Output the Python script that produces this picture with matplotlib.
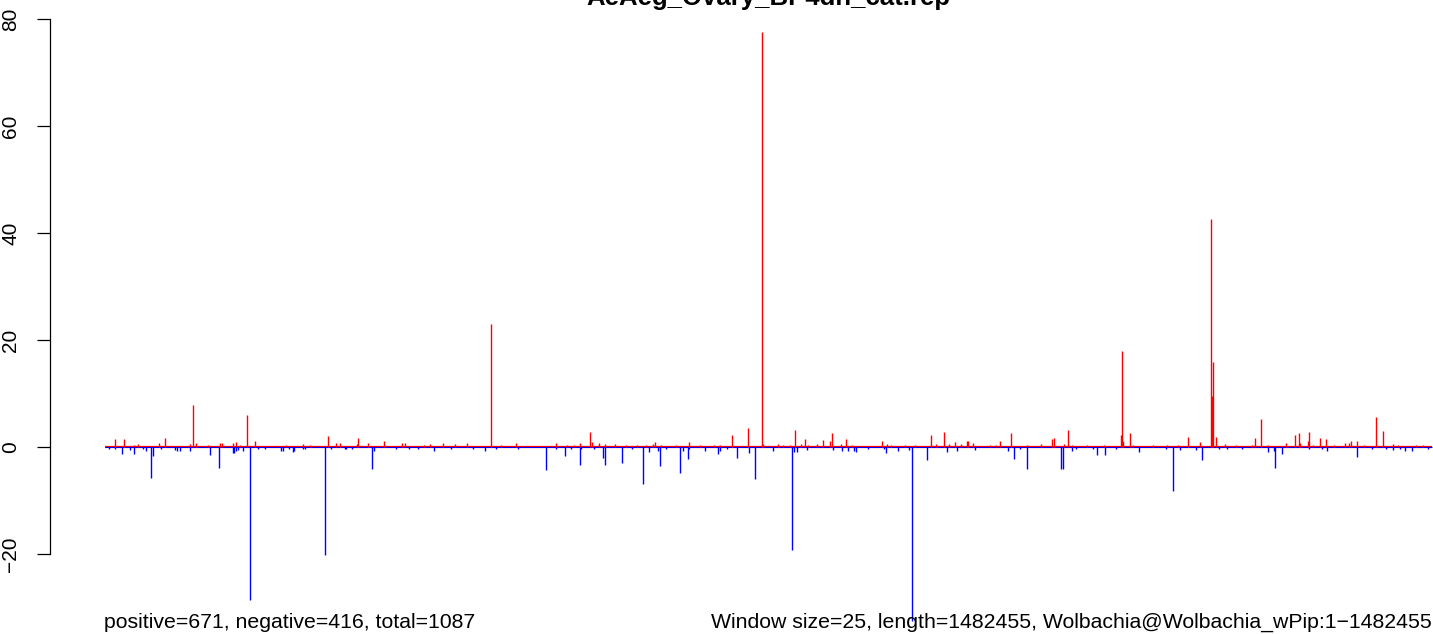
import matplotlib
matplotlib.use("Agg")
import matplotlib.pyplot as plt

plt.rcParams['font.family'] = ['Liberation Sans', 'DejaVu Sans']

genome_len_kb = 1482.455

# positions in kb along the Wolbachia genome, values = reads per window
pos_kb = [11.5, 21.6, 37.2, 60.7, 67.4, 95.3, 98.6, 101.3, 128.8, 131.0, 143.3, 146.7,
          158.9, 167.9, 221.5, 249.4, 258.4, 262.8, 281.8, 283.0, 294.1, 312.0, 332.1,
          335.4, 363.4, 377.9, 391.3, 404.7, 431.5, 459.4, 504.1, 530.9, 542.1, 544.3,
          552.1, 558.8, 570.0, 612.4, 614.7, 652.7, 700.7, 718.6, 734.2, 735.4, 752.1,
          771.1, 777.8, 782.3, 795.7, 802.4, 810.2, 812.4, 822.5, 828.1, 868.3, 873.9,
          923.0, 928.6, 937.5, 943.1, 949.8, 956.5, 963.2, 964.3, 970.0, 1000.1, 1012.4,
          1045.9, 1058.2, 1060.4, 1071.6, 1076.1, 1135.3, 1136.4, 1137.5, 1145.3, 1210.1,
          1223.5, 1235.9, 1237.0, 1238.1, 1241.5, 1251.6, 1285.1, 1291.8, 1319.7, 1329.7,
          1334.2, 1335.3, 1344.2, 1345.4, 1357.7, 1364.4, 1385.6, 1390.0, 1392.3, 1399.0,
          1420.2, 1428.0, 1439.1]
pos_val = [1.5, 1.5, 0.56, 0.75, 1.7, 0.56, 7.9, 0.75, 0.75, 0.75, 0.75, 0.93,
           6.0, 1.1, 0.56, 2.1, 0.75, 0.75, 0.56, 1.68, 0.75, 1.1, 0.75,
           0.75, 0.56, 0.75, 0.56, 0.75, 22.9, 0.75, 0.75, 0.75, 2.8, 0.93,
           0.75, 0.56, 0.56, 0.56, 0.93, 0.93, 2.24, 3.5, 77.5, 0.56, 0.56,
           3.17, 0.56, 1.5, 0.56, 1.3, 1.1, 2.65, 0.56, 1.5, 1.1, 0.56,
           2.24, 0.56, 2.8, 0.56, 0.93, 0.56, 1.1, 1.1, 0.75, 1.1, 2.6,
           0.56, 1.5, 1.68, 0.56, 3.1, 2.24, 17.9, 1.1, 2.6, 1.87,
           0.93, 42.6, 9.5, 15.8, 1.87, 0.56, 1.68, 5.2, 0.75, 2.24,
           2.6, 0.75, 1.1, 2.8, 1.68, 1.5, 0.75, 0.75, 1.1, 1.1,
           5.6, 3.0, 0.56]

small_pos_kb = [32, 115, 151, 202, 229, 356, 442, 516, 524, 582, 594, 604, 621, 638, 665,
                680, 687, 757, 765, 785, 834, 878, 894, 905, 989, 995, 1030, 1080, 1097,
                1116, 1148, 1171, 1187, 1199, 1263, 1281, 1299, 1349, 1373, 1407, 1445,
                1465, 1472]
small_pos_val = [0.37] * len(small_pos_kb)

neg_kb = [4.8, 19.3, 28.3, 32.7, 46.1, 51.7, 54.0, 62.2, 78.5, 80.8, 84.1, 95.3, 117.6,
          127.7, 143.3, 144.4, 146.7, 148.9, 154.5, 162.3, 197.0, 199.2, 205.9, 210.4,
          211.5, 221.5, 246.1, 252.8, 268.4, 276.2, 298.6, 300.8, 339.9, 367.8, 424.8,
          437.1, 492.9, 514.2, 520.9, 530.9, 546.6, 556.6, 558.8, 577.8, 601.3, 608.0,
          618.1, 620.3, 642.7, 646.1, 651.6, 670.6, 685.1, 687.4, 706.4, 719.8, 726.5,
          746.6, 767.8, 770.0, 773.4, 784.6, 813.6, 823.7, 830.4, 837.1, 839.3, 872.9,
          886.3, 898.6, 901.9, 918.6, 941.0, 952.1, 972.2, 1009.1, 1015.8, 1030.3, 1068.3,
          1070.5, 1080.6, 1108.5, 1117.5, 1155.5, 1193.5, 1201.3, 1219.2, 1225.9, 1299.6,
          1306.3, 1307.4, 1315.2, 1365.5, 1399.0, 1439.1, 1452.5, 1460.3]
neg_val = [-0.37, -1.24, -0.56, -1.24, -0.68, -5.7, -1.6, -0.37, -0.56, -0.8, -0.75, -0.75, -1.43,
           -3.86, -1.06, -1.06, -0.8, -0.56, -0.68, -28.6, -0.68, -0.68, -0.37, -1.0,
           -0.68, -0.37, -20.2, -0.37, -0.43, -0.43, -4.2, -0.68, -0.43, -0.68, -0.68,
           -0.43, -4.3, -1.6, -0.43, -3.4, -0.43, -2.0, -3.3, -2.9, -7.0, -0.87,
           -0.68, -3.48, -4.8, -0.68, -2.18, -0.68, -1.24, -0.68, -2.0, -1.06, -6.0,
           -0.75, -19.3, -1.0, -0.87, -0.5, -0.62, -0.75, -0.75, -0.68, -0.87, -1.06,
           -0.68, -0.5, -32.5, -2.36, -0.87, -0.75, -0.5, -0.68, -2.18, -4.2, -4.04,
           -4.04, -0.68, -1.43, -1.43, -1.0, -8.2, -0.5, -0.56, -2.36, -0.87,
           -0.75, -3.86, -1.24, -0.75, -1.8, -0.5, -0.75, -0.75]

small_neg_kb = [11, 42, 171, 179, 223, 269, 325, 350, 387, 411, 461, 504, 532, 589, 627,
                653, 695, 852, 870, 1022, 1085, 1104, 1129, 1185, 1245, 1254, 1270, 1345,
                1360, 1415, 1431, 1447, 1478]
small_neg_val = [-0.37] * len(small_neg_kb)

fig = plt.figure(figsize=(14.33, 6.34), dpi=100)
ax = fig.add_axes([50 / 1433, 0, 1 - 50 / 1433, 1])

# dense near-zero windows along the whole genome
ax.hlines(0, 0, genome_len_kb, color='red', lw=1.6, zorder=1)
ax.hlines(0, 0, genome_len_kb, color='blue', lw=0.7, zorder=1)
ax.vlines(small_pos_kb, 0, small_pos_val, color='red', lw=1.0)
ax.vlines(small_neg_kb, 0, small_neg_val, color='blue', lw=1.0)
ax.vlines(pos_kb, 0, pos_val, color='red', lw=1.0)
ax.vlines(neg_kb, 0, neg_val, color='blue', lw=1.0)

ax.set_xlim(-61.4, 1483.6)
ax.set_ylim(-34.95, 83.55)

for s in ['top', 'right', 'bottom']:
    ax.spines[s].set_visible(False)
ax.spines['left'].set_bounds(-20, 80)
ax.spines['left'].set_linewidth(0.9)
ax.set_xticks([])
ax.set_yticks([-20, 0, 20, 40, 60, 80])
ax.tick_params(axis='y', length=9.4, width=0.9, pad=12, labelsize=15,
               labelrotation=90)
for lab in ax.get_yticklabels():
    lab.set_va('center')

fig.text(768 / 1433, 1 - 5 / 634, "AeAeg_Ovary_BP4dh_cat.rep", ha='center',
         va='baseline', fontsize=18.5, fontweight='bold')
fig.text(104 / 1433, 1 - 628 / 634, "positive=671, negative=416, total=1087",
         ha='left', va='baseline', fontsize=15.3)
fig.text(1432 / 1433, 1 - 628 / 634,
         "Window size=25, length=1482455, Wolbachia@Wolbachia_wPip:1\u22121482455",
         ha='right', va='baseline', fontsize=15.3)

fig.savefig("out.png", dpi=100)
